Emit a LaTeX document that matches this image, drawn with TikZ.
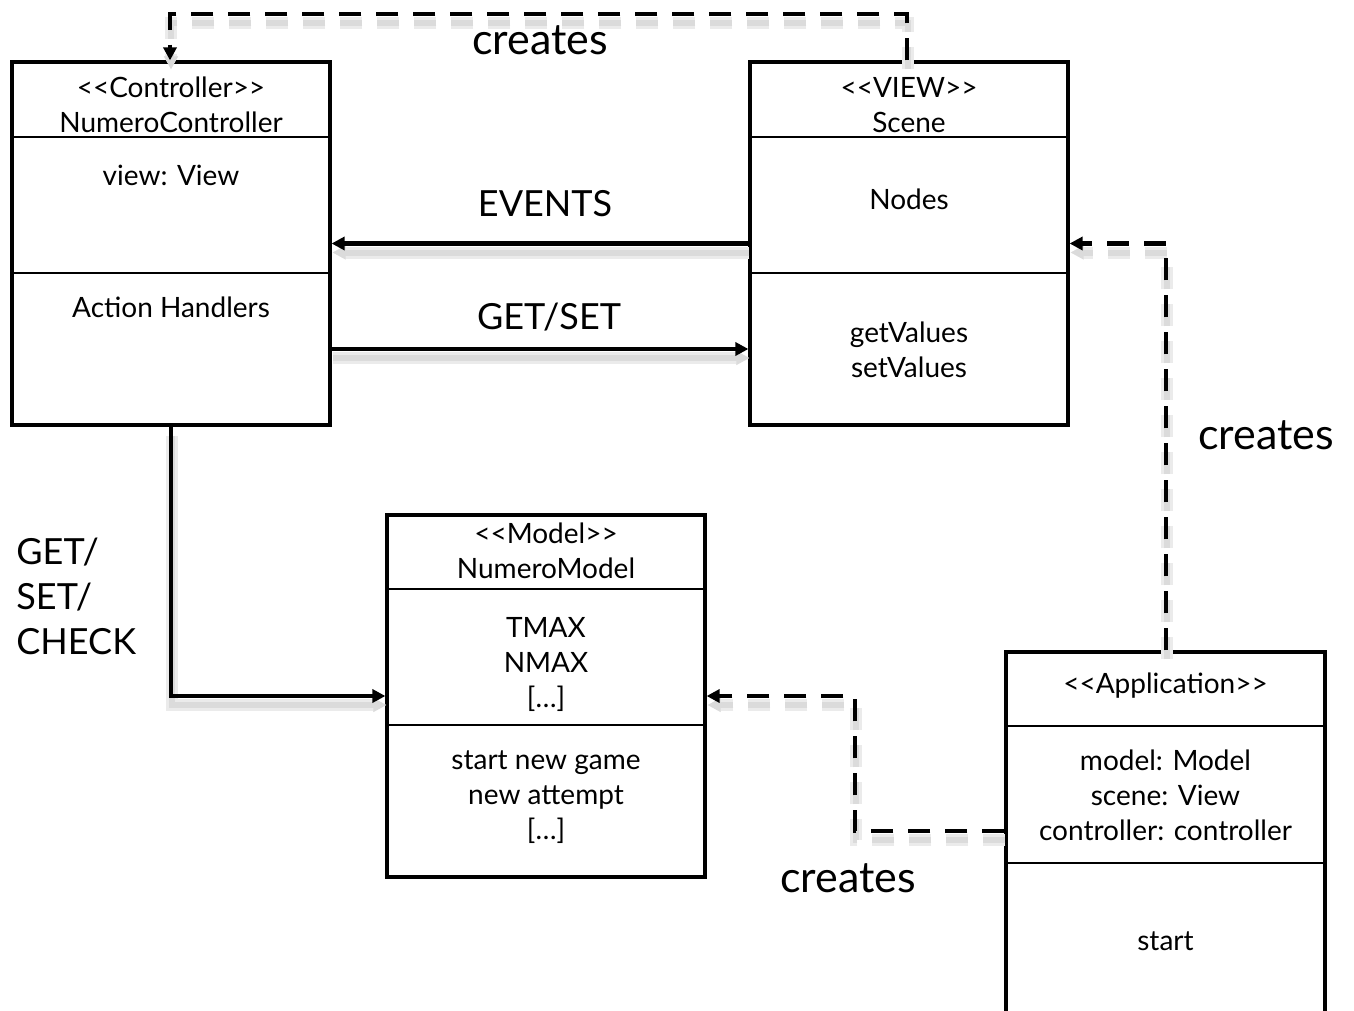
\documentclass[tikz,border=0pt]{standalone}
\usepackage{fontspec}
\setmainfont{Lato}
\usetikzlibrary{arrows.meta}
\begin{document}
\begin{tikzpicture}[x=0.5pt,y=-0.5pt,
  box/.style={draw, line width=1.6pt, rectangle, inner sep=0pt, minimum width=159pt},
  divider/.style={line width=0.75pt},
  txt/.style={inner sep=0pt, align=center, font=\fontsize{14}{17.5}\selectfont},
  lbl/.style={inner sep=0pt, align=center, font=\fontsize{18}{22.5}\selectfont},
  lblc/.style={inner sep=0pt, align=center, font=\fontsize{21.5}{24}\selectfont},
  shadow/.style={preaction={draw=black!8, line width=6pt, transform canvas={shift={(0.5pt,-4.5pt)}}},
                 preaction={draw=black!14, line width=3pt, transform canvas={shift={(0.5pt,-4.5pt)}}}},
  dshadow/.style={preaction={draw=black!8, line width=6pt, dash pattern=on 11pt off 7.5pt, transform canvas={shift={(0.5pt,-4.5pt)}}},
                 preaction={draw=black!14, line width=3pt, dash pattern=on 11pt off 7.5pt, transform canvas={shift={(0.5pt,-4.5pt)}}}},
  conn/.style={line width=2.2pt, -{Triangle[length=6.5pt,width=6.5pt]}, shadow},
  dconn/.style={line width=2.2pt, dash pattern=on 11pt off 7.5pt, -{Triangle[length=6.5pt,width=6.5pt]}, dshadow}
]
\clip (0,0) rectangle (1354,1011);
\fill[white] (0,0) rectangle (1354,1011);

% Controller
\node[box, minimum height=181.5pt] (ctrl) at (171,243.5) {};
\draw[divider] (ctrl.west |- 0,137) -- (ctrl.east |- 0,137);
\draw[divider] (ctrl.west |- 0,273) -- (ctrl.east |- 0,273);
\node[txt] (c1) at (171,105) {<{}<Controller>{}>\\NumeroController};
\node[txt] (c2) at (171,175) {view: View};
\node[txt] (c3) at (171,307) {Action Handlers};

% View
\node[box, minimum height=181.5pt] (view) at (909,243.5) {};
\draw[divider] (view.west |- 0,137) -- (view.east |- 0,137);
\draw[divider] (view.west |- 0,273) -- (view.east |- 0,273);
\node[txt] (v1) at (909,105) {<{}<VIEW>{}>\\Scene};
\node[txt] (v2) at (909,199) {Nodes};
\node[txt] (v3) at (909,350) {getValues\\setValues};

% Model
\node[box, minimum height=181pt] (model) at (546,696) {};
\draw[divider] (model.west |- 0,589) -- (model.east |- 0,589);
\draw[divider] (model.west |- 0,725) -- (model.east |- 0,725);
\node[txt] (m1) at (546,551) {<{}<Model>{}>\\NumeroModel};
\node[txt] (m2) at (546,664) {TMAX\\NMAX\\{}[…]};
\node[txt] (m3) at (546,797) {start new game\\new attempt\\{}[…]};

% Application
\node[box, minimum width=159.5pt, minimum height=210pt] (app) at (1165.5,862) {};
\draw[divider] (app.west |- 0,726) -- (app.east |- 0,726);
\draw[divider] (app.west |- 0,863) -- (app.east |- 0,863);
\node[txt] (a1) at (1165.5,686) {<{}<Application>{}>};
\node[txt] (a2) at (1165.5,795) {model: Model\\scene: View\\controller: controller};
\node[txt] (a3) at (1165.5,941) {start};

% Connectors
\draw[conn] (view.west) -- (ctrl.east);
\draw[conn] (ctrl.east |- 0,349) -- (view.west |- 0,349);
\draw[conn] (ctrl.south) |- (model.west);
\draw[dconn] (view.north -| 907,0) -- (907,14) -- (170,14) -- (ctrl.north -| 170,0);
\draw[dconn] (app.north -| 1166,0) -- (1166,243.5) -- (view.east);
\draw[dconn] (app.west |- 0,831) -- (855,831) -- (855,696) -- (model.east);

% Labels
\node[lblc] (l1) at (540,40) {creates};
\node[lbl] (l2) at (545,204) {EVENTS};
\node[lbl] (l3) at (549,317) {GET/SET};
\node[lblc] (l4) at (1266,435) {creates};
\node[lblc] (l5) at (848,878) {creates};
\node[lbl, align=left, anchor=west] (l6) at (16,596) {GET/\\SET/\\CHECK};
\end{tikzpicture}
\end{document}
